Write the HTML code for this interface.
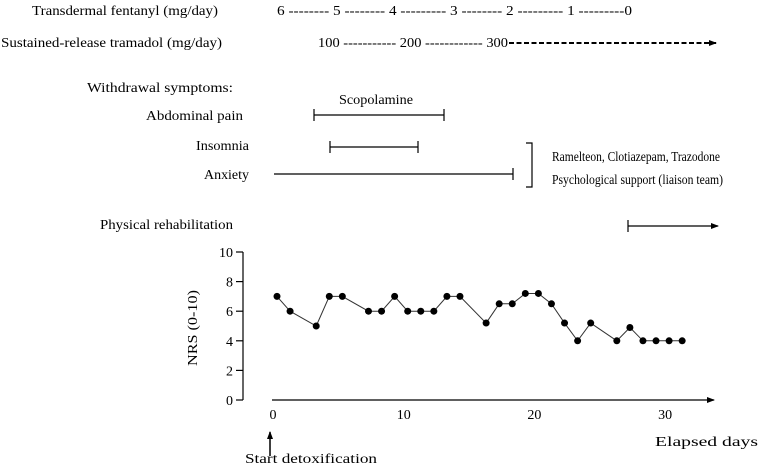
<!DOCTYPE html>
<html><head><meta charset="utf-8"><style>
html,body{margin:0;padding:0;background:#fff}
svg{display:block;font-family:"Liberation Serif",serif;fill:#000}
text{font-size:14px}
</style></head><body>
<svg width="778" height="468" viewBox="0 0 778 468">
<defs><marker id="ah" markerWidth="8" markerHeight="8" refX="7" refY="4" orient="auto" markerUnits="userSpaceOnUse"><path d="M0,1 L8,4 L0,7z" fill="#000"/></marker></defs>
<text x="32" y="15" textLength="186" lengthAdjust="spacingAndGlyphs">Transdermal  fentanyl  (mg/day)</text>
<text x="277" y="15" textLength="355" lengthAdjust="spacingAndGlyphs">6 -------- 5 -------- 4 --------- 3 -------- 2 --------- 1 ---------0</text>
<text x="1" y="47" textLength="221" lengthAdjust="spacingAndGlyphs">Sustained-release  tramadol  (mg/day)</text>
<text x="318" y="47" textLength="190" lengthAdjust="spacingAndGlyphs">100 ----------- 200 ------------ 300</text>
<line x1="509" y1="43" x2="716" y2="43" stroke="#000" stroke-width="2" stroke-dasharray="5,2.5" marker-end="url(#ah)"/>
<text x="87" y="92" textLength="146" lengthAdjust="spacingAndGlyphs">Withdrawal  symptoms:</text>
<text x="339" y="104" textLength="74" lengthAdjust="spacingAndGlyphs">Scopolamine</text>
<text x="146" y="120" textLength="97" lengthAdjust="spacingAndGlyphs">Abdominal  pain</text>
<g stroke="#000" stroke-width="1.2"><line x1="314" y1="115" x2="444" y2="115"/><line x1="314" y1="109" x2="314" y2="121"/><line x1="444" y1="109" x2="444" y2="121"/></g>
<text x="196" y="150" textLength="53" lengthAdjust="spacingAndGlyphs">Insomnia</text>
<g stroke="#000" stroke-width="1.2"><line x1="330" y1="147" x2="418" y2="147"/><line x1="330" y1="141" x2="330" y2="153"/><line x1="418" y1="141" x2="418" y2="153"/></g>
<text x="204" y="179" textLength="45" lengthAdjust="spacingAndGlyphs">Anxiety</text>
<g stroke="#000" stroke-width="1.2"><line x1="274" y1="174" x2="513" y2="174"/><line x1="513" y1="168" x2="513" y2="180"/></g>
<path d="M526,143 H532 V187 H526" fill="none" stroke="#000" stroke-width="1.2"/>
<text x="552" y="161" font-size="15" textLength="168" lengthAdjust="spacingAndGlyphs">Ramelteon,  Clotiazepam,  Trazodone</text>
<text x="552" y="184" font-size="15" textLength="171" lengthAdjust="spacingAndGlyphs">Psychological  support  (liaison  team)</text>
<text x="100" y="229" textLength="133" lengthAdjust="spacingAndGlyphs">Physical  rehabilitation</text>
<g stroke="#000" stroke-width="1.2"><line x1="628" y1="226" x2="718" y2="226" marker-end="url(#ah)"/><line x1="628" y1="220" x2="628" y2="232"/></g>
<g id="chart"></g>
<text transform="translate(197,328) rotate(-90)" text-anchor="middle" font-size="14" textLength="76" lengthAdjust="spacingAndGlyphs">NRS (0-10)</text>
<text x="655" y="446" font-size="16" textLength="103" lengthAdjust="spacingAndGlyphs">Elapsed days</text>
<line x1="270" y1="456" x2="270" y2="432" stroke="#000" stroke-width="1.5" marker-end="url(#ah)"/>
<text x="245" y="463" textLength="132" lengthAdjust="spacingAndGlyphs">Start detoxification</text>
</svg>
<script>
const days=[0,1,3,4,5,7,8,9,10,11,12,13,14,16,17,18,19,20,21,22,23,24,26,27,28,29,30,31];
const nrs=[7,6,5,7,7,6,6,7,6,6,6,7,7,5.2,6.5,6.5,7.2,7.2,6.5,5.2,4,5.2,4,4.9,4,4,4,4];
const yTicks=[0,2,4,6,8,10];
const xTicks=[0,10,20,30];
const NS="http://www.w3.org/2000/svg";
const g=document.getElementById('chart');
function x(d){return 277+13.07*d;}
function y(v){return 400-14.8*v;}
function mk(t,a){const e=document.createElementNS(NS,t);for(const k in a)e.setAttribute(k,a[k]);g.appendChild(e);return e;}
let ax=mk('line',{x1:243,y1:y(10),x2:243,y2:y(0),stroke:'#000','stroke-width':1.2});


yTicks.forEach(v=>{
 const t=mk('line',{x1:236,y1:y(v),x2:243,y2:y(v),stroke:'#000','stroke-width':1.2});
 
 
 const l=mk('text',{x:233,y:y(v)+5,'text-anchor':'end','font-size':13});
 l.textContent=v;
 
 
});
const xa=mk('line',{x1:272,y1:400,x2:714,y2:400,stroke:'#000','stroke-width':1.2,'marker-end':'url(#ah)'});


xTicks.forEach(d=>{
 const l=mk('text',{x:x(d)-4,y:419,'text-anchor':'middle','font-size':13});
 l.textContent=d;
 
 
});
const pl=mk('polyline',{points:days.map((d,i)=>x(d)+','+y(nrs[i])).join(' '),fill:'none',stroke:'#333','stroke-width':1});


days.forEach((d,i)=>{
 const c=mk('circle',{cx:x(d),cy:y(nrs[i]),r:3.5,fill:'#000'});
 
 
});
</script>
</body></html>
